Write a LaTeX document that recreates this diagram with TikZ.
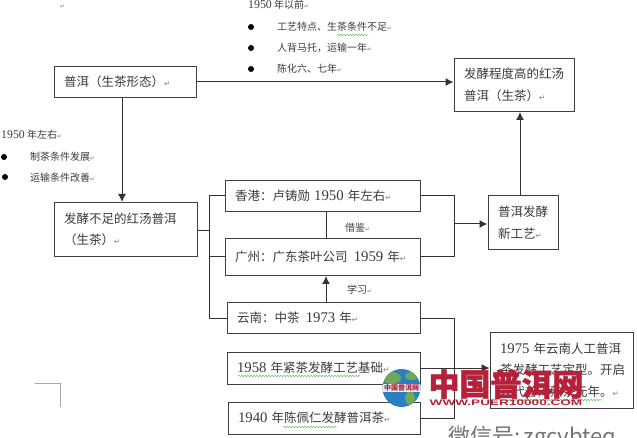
\documentclass[tikz,border=0pt]{standalone}
\usepackage{fontspec}
\setmainfont{Noto Sans CJK SC}
\newfontfamily\latfont[Scale=1.18]{Liberation Serif}
\newfontfamily\retfont{DejaVu Sans}
\newfontfamily\urlfont{Liberation Sans}
\usetikzlibrary{arrows.meta,decorations.pathmorphing}
\definecolor{textgray}{HTML}{3A3A3A}
\definecolor{squiggle}{HTML}{6DBE6D}
\definecolor{markred}{HTML}{B5203A}
\definecolor{globeblue}{HTML}{2A7FC0}
\definecolor{globegreen}{HTML}{6FA65A}
\newcommand{\yr}[1]{{\latfont #1}}
\newcommand{\ret}{{\retfont\color{gray}\scalebox{0.6}{↵}}}
\tikzset{
  stagebox/.style={draw=black!75,line width=1pt,text=textgray,font=\fontsize{12.5}{21.5}\selectfont,
    align=left,inner xsep=10pt,inner ysep=0pt},
  notetext/.style={anchor=west,inner sep=0pt,text=textgray,font=\fontsize{10}{11}\selectfont},
  dotmark/.style={circle,fill=black,inner sep=0pt,minimum size=6pt},
  link/.style={draw=black!80,line width=1pt},
  linkto/.style={link,-{Latex[length=8pt,width=8pt]}},
  wavy/.style={draw=squiggle,line width=0.5pt,decorate,decoration={snake,amplitude=0.7pt,segment length=3pt}}
}
\begin{document}
\begin{tikzpicture}[x=1pt,y=-1pt]
  \useasboundingbox (0,0) rectangle (637,438);
  % boxes
  \draw
    (125,82) node[stagebox,text width=122pt,minimum height=31pt] (shengcha){普洱（生茶形态）\ret}
    (514,85) node[stagebox,text width=100pt,minimum height=53pt] (hongtang){发酵程度高的红汤\\普洱（生茶）\ret}
    (125.5,229.5) node[stagebox,text width=123pt,minimum height=54pt] (buzu){发酵不足的红汤普洱\\（生茶）\ret}
    (322.5,196) node[stagebox,text width=175pt,minimum height=31pt] (xianggang){香港：卢铸勋 \yr{1950} 年左右\ret}
    (322.5,257) node[stagebox,text width=175pt,minimum height=37pt] (guangzhou){广州：广东茶叶公司\enspace\yr{1959} 年\ret}
    (323.5,318) node[stagebox,text width=173pt,minimum height=31pt] (yunnan){云南：中茶\enspace\yr{1973} 年\ret}
    (323.5,368) node[stagebox,text width=173pt,minimum height=32pt] (jincha){\yr{1958} 年紧茶发酵工艺基础\ret}
    (324,418) node[stagebox,text width=172pt,minimum height=32pt] (wu){\yr{1940} 年陈佩仁发酵普洱茶\ret}
    (523,222.5) node[stagebox,text width=50pt,minimum height=54pt] (xingongyi){普洱发酵\\新工艺\ret}
    (561.5,370) node[stagebox,text width=123pt,minimum height=76pt] (dingxing){\yr{1975} 年云南人工普洱\\茶发酵工艺定型。开启\\现代普洱熟茶元年。\ret};
  % free notes
  \node[notetext] (topret) at (60,7) {\ret};
  \node[notetext] (before) at (248,5) {\yr{1950} 年以前\ret};
  \node[dotmark] (dota) at (251,27) {};
  \node[dotmark] (dotb) at (251,48) {};
  \node[dotmark] (dotc) at (251,69) {};
  \node[notetext] (gongyi) at (277,27) {工艺特点、生茶条件不足\ret};
  \node[notetext] (beibei) at (277,48) {人背马托，运输一年\ret};
  \node[notetext] (chenhua) at (277,69) {陈化六、七年\ret};
  \node[notetext] (around) at (1,135) {\yr{1950} 年左右\ret};
  \node[dotmark] (dotd) at (4,157) {};
  \node[dotmark] (dote) at (5,177) {};
  \node[notetext] (zhicha) at (30,157) {制茶条件发展\ret};
  \node[notetext] (yunshu) at (30,178) {运输条件改善\ret};
  \node[notetext] (jiejian) at (345,228) {借鉴\ret};
  \node[notetext] (xuexi) at (347,290) {学习\ret};
  % junctions
  \coordinate (trunk) at (209,231);
  \coordinate (mergetop) at (454,224);
  \coordinate (mergelow) at (454,368);
  \begin{scope}[linkto]
    \draw (shengcha.east) to (hongtang.west |- shengcha.east);
    \draw (shengcha.south -| 122,0) to (buzu.north -| 122,0);
    \draw (520,0 |- xingongyi.north) to (520,0 |- hongtang.south);
    \draw (326,0 |- yunnan.north) to (326,0 |- guangzhou.south);
    \draw (mergetop) to (xingongyi.west |- mergetop);
    \draw (jincha.east) to (dingxing.west |- jincha.east);
  \end{scope}
  \begin{scope}[link]
    \draw (326,0 |- xianggang.south) to (326,0 |- guangzhou.north);
    \draw (buzu.east |- trunk) to (trunk);
    \draw (xianggang.west) -| (trunk);
    \draw (yunnan.west) -| (trunk);
    \draw (trunk |- guangzhou.west) to (guangzhou.west);
    \draw (xianggang.east) -| (mergetop);
    \draw (guangzhou.east) -| (mergetop);
    \draw (yunnan.east) -| (mergelow);
    \draw (wu.east) -| (mergelow);
  \end{scope}
  % squiggles
  \draw[wavy] (337,35) to (368,35);
  \draw[wavy] (238,376) to (360,376);
  \draw[wavy] (283,427) to (337,427);
  \draw[wavy] (500,400) to (602,400);
  % stray corner
  \draw[black!35,line width=0.7pt] (35,383) -| (60,407);
  % watermark
  \node[circle,minimum size=38pt,inner sep=0pt,fill=globeblue] (globe) at (401.5,388) {};
  \begin{scope}
    \clip (401.5,388) circle (19pt);
    \fill[globegreen] (392,378) ellipse (9pt and 6pt);
    \fill[globegreen] (412,376) ellipse (7pt and 4pt);
    \fill[globegreen] (410,398) ellipse (5pt and 7pt);
    \fill[white!85!globeblue] (382,384) rectangle (421,392);
  \end{scope}
  \node[inner sep=0pt,text=markred,font=\fontsize{7}{8}\bfseries\selectfont] (globetext) at (globe) {中国普洱网};
  \node[inner sep=0pt,text=markred,font=\fontsize{31}{32}\bfseries\selectfont] (brand) at (506,384) {\addfontfeature{FakeBold=1.5}中国普洱网};
  \node[inner sep=0pt,text=markred,font=\fontsize{8}{9}\selectfont] (brandurl) at (506,402.5) {\scalebox{1.7}[1]{\urlfont\bfseries WWW.PUER10000.COM}};
  \node[anchor=west,inner sep=0pt,text=black!55,font=\fontsize{22}{24}\selectfont] (wechat) at (448,438) {微信号:\,zgcybteq};
\end{tikzpicture}
\end{document}
